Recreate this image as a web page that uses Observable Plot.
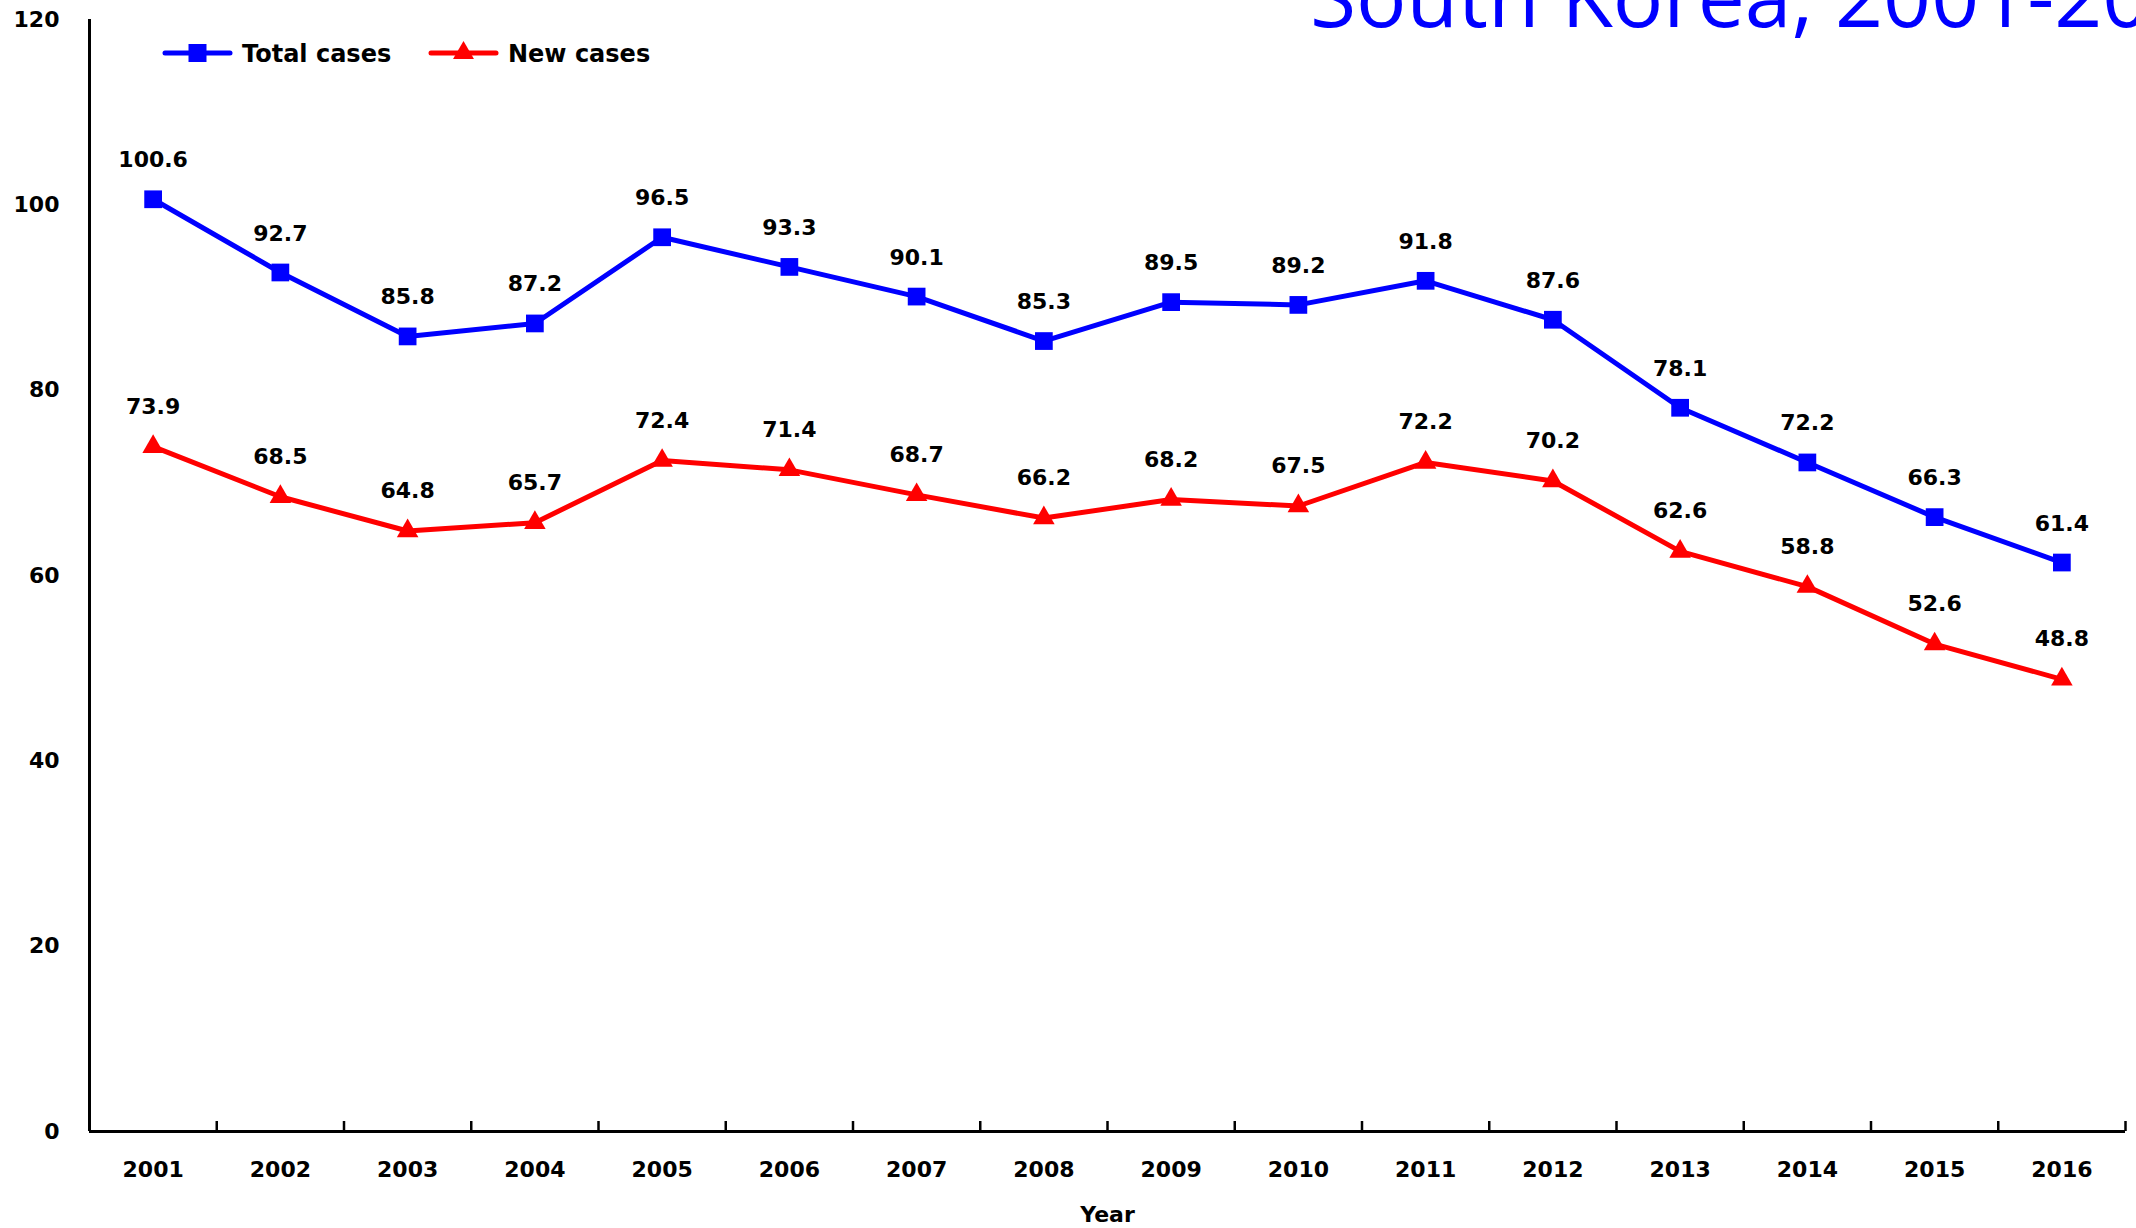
<!DOCTYPE html>
<html>
<head>
<meta charset="utf-8">
<script src="https://cdn.jsdelivr.net/npm/d3@7"></script>
<script src="https://cdn.jsdelivr.net/npm/@observablehq/plot@0.6"></script>
<style>
  html, body { margin: 0; padding: 0; background: #fff; overflow: hidden; }
  #wrap { position: relative; width: 2136px; height: 1228px; }
  #wrap svg.overlay { position: absolute; left: 0; top: 0; }
</style>
</head>
<body>
<div id="wrap"></div>
<script>
const years = [2001, 2002, 2003, 2004, 2005, 2006, 2007, 2008, 2009, 2010, 2011, 2012, 2013, 2014, 2015, 2016];
const totalCases = [100.6, 92.7, 85.8, 87.2, 96.5, 93.3, 90.1, 85.3, 89.5, 89.2, 91.8, 87.6, 78.1, 72.2, 66.3, 61.4];
const newCases = [73.9, 68.5, 64.8, 65.7, 72.4, 71.4, 68.7, 66.2, 68.2, 67.5, 72.2, 70.2, 62.6, 58.8, 52.6, 48.8];
const yTicks = [0, 20, 40, 60, 80, 100, 120];
const seriesNames = ["Total cases", "New cases"];
const titleText = "South Korea, 2001-2016";
const xLabel = "Year";

const totalData = years.map((year, i) => ({year, value: totalCases[i]}));
const newData = years.map((year, i) => ({year, value: newCases[i]}));
const bounds = years.map(y => y + 0.5);

const BLUE = "#0000FF", RED = "#FF0000";
const FONT = "DejaVu Sans";

const chart = Plot.plot({
  width: 2136,
  height: 1228,
  marginLeft: 89,
  marginRight: 11,
  marginTop: 19,
  marginBottom: 97,
  style: {fontFamily: FONT, background: "#fff", overflow: "visible"},
  x: {type: "linear", domain: [years[0] - 0.5, years[years.length - 1] + 0.5]},
  y: {type: "linear", domain: [0, 120], axis: null},
  marks: [
    // axes lines
    Plot.ruleX([years[0] - 0.5], {y1: 0, y2: 120, stroke: "#000", strokeWidth: 3}),
    Plot.ruleY([0], {x1: years[0] - 0.5, x2: years[years.length - 1] + 0.5, stroke: "#000", strokeWidth: 3}),
    // inward ticks at category boundaries
    Plot.axisX(bounds, {tickSize: 10, dy: -10, tickFormat: () => "", label: null, stroke: "#000", strokeWidth: 2.5}),
    // x tick labels
    Plot.text(years, {x: d => d, text: d => String(d), frameAnchor: "bottom", dy: 38, lineAnchor: "middle",
      fontSize: 22, fontWeight: "bold", fill: "#000"}),
    // y tick labels
    Plot.text(yTicks, {y: d => d, text: d => String(d), frameAnchor: "left", dx: -30, textAnchor: "end", lineAnchor: "middle",
      fontSize: 22, fontWeight: "bold", fill: "#000"}),
    // x label
    Plot.text([xLabel], {text: d => d, frameAnchor: "bottom", dy: 83, lineAnchor: "middle",
      fontSize: 22, fontWeight: "bold", fill: "#000"}),
    // series lines
    Plot.line(totalData, {x: "year", y: "value", stroke: BLUE, strokeWidth: 5}),
    Plot.line(newData, {x: "year", y: "value", stroke: RED, strokeWidth: 5}),
    Plot.dot(totalData, {x: "year", y: "value", symbol: "square", r: 10, fill: BLUE, stroke: "none"}),
    Plot.dot(newData, {x: "year", y: "value", symbol: "triangle", r: 8, fill: RED, stroke: "none"}),
    // data labels
    Plot.text(totalData, {x: "year", y: "value", text: d => d.value.toFixed(1), dy: -39, lineAnchor: "middle",
      fontSize: 22, fontWeight: "bold", fill: "#000"}),
    Plot.text(newData, {x: "year", y: "value", text: d => d.value.toFixed(1), dy: -40, lineAnchor: "middle",
      fontSize: 22, fontWeight: "bold", fill: "#000"})
  ]
});

const wrap = document.getElementById("wrap");
wrap.appendChild(chart);

// Title + legend overlay
const ns = "http://www.w3.org/2000/svg";
const ov = document.createElementNS(ns, "svg");
ov.setAttribute("class", "overlay");
ov.setAttribute("width", 2136);
ov.setAttribute("height", 120);
wrap.appendChild(ov);
const sel = d3.select(ov);

sel.append("text")
  .attr("x", 1310).attr("y", 27)
  .attr("font-family", "Open Sans")
  .attr("font-size", 84)
  .attr("fill", BLUE)
  .text(titleText);

const legendItems = [
  {name: seriesNames[0], color: BLUE, symbol: d3.symbolSquare, size: 18 * 18, x0: 165},
  {name: seriesNames[1], color: RED, symbol: d3.symbolTriangle, size: 190, x0: 431}
];
legendItems.forEach(it => {
  const g = sel.append("g");
  g.append("line").attr("x1", it.x0).attr("x2", it.x0 + 65).attr("y1", 53).attr("y2", 53)
    .attr("stroke", it.color).attr("stroke-width", 5).attr("stroke-linecap", "round");
  g.append("path").attr("d", d3.symbol(it.symbol, it.size)())
    .attr("transform", `translate(${it.x0 + 32.5},53)`).attr("fill", it.color);
  g.append("text").attr("x", it.x0 + 77).attr("y", 62)
    .attr("font-family", FONT).attr("font-weight", "bold").attr("font-size", 24).attr("fill", "#000")
    .text(it.name);
});
</script>
</body>
</html>
